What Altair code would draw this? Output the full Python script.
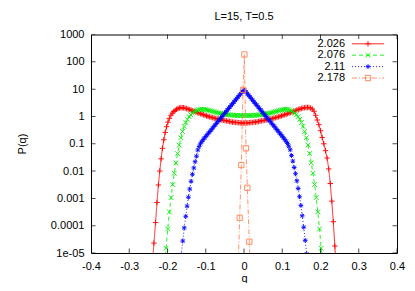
import altair as alt
import pandas as pd

# ---------------- data ----------------
series_names = ["2.026", "2.076", "2.11", "2.178"]

red_q = [-0.2400, -0.2355, -0.2312, -0.2274, -0.2238, -0.2202, -0.2167, -0.2132, -0.2096, -0.2060,
         -0.2024, -0.1988, -0.1952, -0.1910, -0.1873, -0.1836, -0.1800, -0.1763, -0.1726, -0.1690,
         -0.1653, -0.1616, -0.1580, -0.1540, -0.1500, -0.1460, -0.1420, -0.1380, -0.1340, -0.1300,
         -0.1260, -0.1220, -0.1180, -0.1140, -0.1100, -0.1060, -0.1020, -0.0980, -0.0940, -0.0900,
         -0.0860, -0.0820, -0.0780, -0.0740, -0.0700, -0.0660, -0.0620, -0.0580, -0.0540, -0.0500,
         -0.0460, -0.0420, -0.0380, -0.0340, -0.0300, -0.0260, -0.0220, -0.0180, -0.0140, -0.0100,
         -0.0060, -0.0020,
         0.0020, 0.0060, 0.0100, 0.0140, 0.0180, 0.0220, 0.0260, 0.0300, 0.0340, 0.0380,
         0.0420, 0.0460, 0.0500, 0.0540, 0.0580, 0.0620, 0.0660, 0.0700, 0.0740, 0.0780,
         0.0820, 0.0860, 0.0900, 0.0940, 0.0980, 0.1020, 0.1060, 0.1100, 0.1140, 0.1180,
         0.1220, 0.1260, 0.1300, 0.1340, 0.1380, 0.1420, 0.1460, 0.1500, 0.1540, 0.1580,
         0.1620, 0.1660, 0.1700, 0.1743, 0.1786, 0.1829, 0.1872, 0.1915, 0.1958, 0.2001,
         0.2044, 0.2087, 0.2130, 0.2172, 0.2215, 0.2255, 0.2295, 0.2335, 0.2375, 0.2415]
red_p = [2.5e-6, 2.3e-5, 1.3e-4, 7.1e-4, 3.1e-3, 0.010, 0.028, 0.068, 0.14, 0.26,
         0.42, 0.62, 0.85, 1.12, 1.32, 1.51, 1.66, 1.82, 1.95, 2.04,
         2.09, 2.09, 2.07, 2.00, 1.93, 1.86, 1.78, 1.70, 1.62, 1.55,
         1.46, 1.38, 1.32, 1.26, 1.20, 1.15, 1.10, 1.05, 1.00, 0.97,
         0.93, 0.90, 0.87, 0.84, 0.81, 0.79, 0.76, 0.74, 0.72, 0.71,
         0.69, 0.67, 0.65, 0.64, 0.62, 0.62, 0.60, 0.60, 0.59, 0.58,
         0.575, 0.575,
         0.575, 0.575, 0.58, 0.59, 0.60, 0.60, 0.62, 0.62, 0.64, 0.65,
         0.67, 0.69, 0.71, 0.72, 0.74, 0.76, 0.79, 0.81, 0.84, 0.87,
         0.90, 0.93, 0.97, 1.00, 1.05, 1.10, 1.15, 1.20, 1.26, 1.32,
         1.38, 1.46, 1.55, 1.63, 1.72, 1.80, 1.88, 1.95, 2.02, 2.08,
         2.12, 2.14, 2.12, 2.03, 1.86, 1.55, 1.10, 0.74, 0.50, 0.30,
         0.17, 0.10, 0.056, 0.030, 0.012, 0.0035, 7.9e-4, 1.4e-4, 1.8e-5, 1.6e-6]

green_q = [-0.2080, -0.2037, -0.1994, -0.1951, -0.1908, -0.1865, -0.1822, -0.1779, -0.1736, -0.1693,
           -0.1650, -0.1607, -0.1564, -0.1521, -0.1478, -0.1435, -0.1392, -0.1349, -0.1306, -0.1263,
           -0.1220, -0.1177, -0.1134, -0.1090, -0.1050, -0.1010, -0.0970, -0.0930, -0.0890, -0.0850,
           -0.0810, -0.0770, -0.0730, -0.0690, -0.0650, -0.0610, -0.0570, -0.0530, -0.0490, -0.0450,
           -0.0410, -0.0370, -0.0330, -0.0290, -0.0250, -0.0210, -0.0170, -0.0130, -0.0090, -0.0050,
           -0.0010,
           0.0030, 0.0070, 0.0110, 0.0150, 0.0190, 0.0230, 0.0270, 0.0310, 0.0350, 0.0390,
           0.0430, 0.0470, 0.0510, 0.0550, 0.0590, 0.0630, 0.0670, 0.0710, 0.0750, 0.0790,
           0.0830, 0.0870, 0.0910, 0.0950, 0.0990, 0.1030, 0.1070, 0.1110,
           0.1150, 0.1195, 0.1240, 0.1285, 0.1329, 0.1372, 0.1415, 0.1458, 0.1501, 0.1544,
           0.1587, 0.1630, 0.1673, 0.1716, 0.1759, 0.1802, 0.1845, 0.1888, 0.1931, 0.1974,
           0.2017, 0.2060]
green_p = [2.5e-6, 1.5e-5, 7.6e-5, 3.2e-4, 1.07e-3, 3.2e-3, 8.3e-3, 0.020, 0.044, 0.089,
           0.166, 0.28, 0.43, 0.60, 0.79, 0.98, 1.15, 1.32, 1.48, 1.58,
           1.70, 1.78, 1.82, 1.84, 1.82, 1.78, 1.74, 1.68, 1.62, 1.57,
           1.51, 1.46, 1.41, 1.36, 1.32, 1.29, 1.26, 1.23, 1.20, 1.17,
           1.15, 1.14, 1.12, 1.11, 1.10, 1.10, 1.08, 1.08, 1.08, 1.08,
           1.08,
           1.08, 1.08, 1.08, 1.08, 1.09, 1.10, 1.10, 1.11, 1.12, 1.14,
           1.15, 1.17, 1.20, 1.23, 1.26, 1.29, 1.32, 1.36, 1.41, 1.46,
           1.51, 1.57, 1.62, 1.68, 1.74, 1.78, 1.82, 1.84,
           1.80, 1.72, 1.60, 1.48, 1.32, 1.15, 0.98, 0.79, 0.60, 0.43,
           0.28, 0.166, 0.089, 0.044, 0.020, 8.3e-3, 3.2e-3, 1.07e-3, 3.2e-4, 7.6e-5,
           1.5e-5, 2.5e-6]

blue_q = [-0.1680, -0.1640, -0.1601, -0.1562, -0.1523, -0.1488, -0.1453, -0.1418, -0.1383, -0.1348,
          -0.1313, -0.1278, -0.1243, -0.1208, -0.1173, -0.1138, -0.1103, -0.1068, -0.1033, -0.0998,
          -0.0963, -0.0928, -0.0893, -0.0858, -0.0823, -0.0788, -0.0753, -0.0718, -0.0683, -0.0648,
          -0.0613, -0.0578, -0.0543, -0.0508, -0.0473, -0.0438, -0.0403, -0.0368, -0.0333, -0.0298,
          -0.0263, -0.0228, -0.0193, -0.0158, -0.0123, -0.0088, -0.0053, -0.0018,
          0.0017, 0.0052, 0.0087, 0.0122, 0.0157, 0.0192, 0.0227, 0.0262, 0.0297, 0.0332,
          0.0367, 0.0402, 0.0437, 0.0472, 0.0507, 0.0542, 0.0577, 0.0612, 0.0647, 0.0682,
          0.0717, 0.0752, 0.0787, 0.0822, 0.0857, 0.0892, 0.0927, 0.0962, 0.0997, 0.1032,
          0.1067, 0.1102, 0.1137, 0.1172, 0.1207, 0.1242, 0.1277, 0.1312, 0.1347, 0.1382,
          0.1417, 0.1452, 0.1487, 0.1522, 0.1561, 0.1600, 0.1639, 0.1679]
blue_p = [2.5e-6, 8.7e-6, 2.75e-5, 8.3e-5, 2.2e-4, 5.2e-4, 1.1e-3, 2.2e-3, 4.2e-3, 7.6e-3,
          0.013, 0.022, 0.035, 0.059, 0.079, 0.100, 0.120, 0.141, 0.162, 0.186,
          0.214, 0.245, 0.28, 0.32, 0.37, 0.43, 0.49, 0.56, 0.65, 0.74,
          0.85, 0.98, 1.12, 1.29, 1.48, 1.70, 1.95, 2.24, 2.57, 2.95,
          3.39, 3.89, 4.47, 5.13, 5.89, 6.76, 7.76, 8.91,
          9.0, 7.9, 6.8, 5.9, 5.2, 4.5, 3.9, 3.4, 2.95, 2.6,
          2.25, 1.95, 1.72, 1.50, 1.30, 1.13, 0.99, 0.86, 0.75, 0.66,
          0.57, 0.50, 0.44, 0.38, 0.33, 0.29, 0.25, 0.22, 0.19, 0.165,
          0.143, 0.122, 0.102, 0.081, 0.060, 0.037, 0.023, 0.0135, 0.0080, 0.0044,
          0.0023, 0.00115, 0.00055, 0.00023, 8.8e-5, 2.9e-5, 9.2e-6, 2.6e-6]

orange_q = [-0.0155, -0.0113, -0.0070, -0.0025, 0.0010, 0.0052, 0.0087, 0.0139, 0.0180]
orange_p = [2.5e-6, 1.95e-4, 0.0166, 9.3, 186.0, 0.068, 2.45e-3, 2.6e-5, 6.3e-7]

x_ticks = [-0.4, -0.3, -0.2, -0.1, 0.0, 0.1, 0.2, 0.3, 0.4]
y_ticks = [1e-5, 1e-4, 1e-3, 1e-2, 1e-1, 1, 10, 100, 1000]

title_text = "L=15, T=0.5"
x_title = "q"
y_title = "P(q)"

# ---------------- styling ----------------
FONT = "Liberation Sans"
W, H = 306, 218.5
colors = ["#ff0000", "#00ee00", "#0000ff", "#ff8050"]
dashes = [[1, 0], [4, 3], [1, 2], [5, 2, 1, 2]]
shapes = ["M-1,0L1,0M0,-1L0,1",
          "M-1,-1L1,1M-1,1L1,-1",
          "M-1,0L1,0M0,-1L0,1M-0.75,-0.75L0.75,0.75M-0.75,0.75L0.75,-0.75",
          "square"]
sizes = [30, 22, 22, 28]

series_data = [(red_q, red_p), (green_q, green_p), (blue_q, blue_p), (orange_q, orange_p)]
for qs, ps in series_data:
    assert len(qs) == len(ps), (len(qs), len(ps))

x_scale = alt.Scale(domain=[-0.4, 0.4], nice=False, zero=False)
y_scale = alt.Scale(type="log", domain=[1e-5, 1000], nice=False)

x_axis = alt.Axis(values=x_ticks, ticks=False, tickSize=0, domain=False, grid=False,
                  labelFont=FONT, labelFontSize=11, labelColor="black", labelPadding=7,
                  labelFlush=False, labelOverlap=False,
                  labelExpr="datum.value == 0 ? '0' : toString(round(datum.value*10)/10)",
                  title=x_title, titleFont=FONT, titleFontSize=11, titleFontWeight="normal",
                  titleColor="black", titleX=153, titleY=28, titleBaseline="alphabetic",
                  titleAlign="center")
y_axis = alt.Axis(values=y_ticks, ticks=False, tickSize=0, domain=False, grid=False,
                  labelFont=FONT, labelFontSize=11, labelColor="black", labelPadding=7,
                  labelFlush=False, labelOverlap=False,
                  labelExpr="datum.value < 0.00005 ? '1e-05' : format(datum.value, '~g')",
                  title=y_title, titleFont=FONT, titleFontSize=11, titleFontWeight="normal",
                  titleColor="black", titleAngle=270, titleX=-69, titleY=109,
                  titleAlign="center", titleBaseline="middle")

layers = []
for i, (name, (qs, ps)) in enumerate(zip(series_names, series_data)):
    df = pd.DataFrame({"q": qs, "P": ps, "series": name})
    base = alt.Chart(df).encode(
        x=alt.X("q:Q", scale=x_scale, axis=x_axis),
        y=alt.Y("P:Q", scale=y_scale, axis=y_axis),
    )
    layers.append(base.mark_line(clip=True, color=colors[i], strokeWidth=1,
                                 strokeDash=dashes[i], opacity=0.85))
    layers.append(base.mark_point(clip=True, color=colors[i], shape=shapes[i], filled=False,
                                  size=sizes[i], strokeWidth=1, opacity=0.9))

# inward ticks on all four sides
xt = pd.DataFrame({"q": x_ticks})
yt = pd.DataFrame({"P": y_ticks})
tick_style = dict(clip=True, color="black", size=9, thickness=1)
layers.append(alt.Chart(xt).mark_tick(orient="vertical", **tick_style).encode(
    x=alt.X("q:Q", scale=x_scale, axis=x_axis), y=alt.value(H)))
layers.append(alt.Chart(xt).mark_tick(orient="vertical", **tick_style).encode(
    x=alt.X("q:Q", scale=x_scale, axis=x_axis), y=alt.value(0)))
layers.append(alt.Chart(yt).mark_tick(orient="horizontal", **tick_style).encode(
    y=alt.Y("P:Q", scale=y_scale, axis=y_axis), x=alt.value(0)))
layers.append(alt.Chart(yt).mark_tick(orient="horizontal", **tick_style).encode(
    y=alt.Y("P:Q", scale=y_scale, axis=y_axis), x=alt.value(W)))

# key (top right, labels right-aligned left of the samples)
key_y = [9.3, 20.7, 32.1, 43.5]
one = pd.DataFrame({"a": [0]})
for i, name in enumerate(series_names):
    layers.append(alt.Chart(pd.DataFrame({"label": [name]})).mark_text(
        align="right", baseline="middle", font=FONT, fontSize=11, color="black").encode(
        x=alt.value(254), y=alt.value(key_y[i]), text="label:N"))
    layers.append(alt.Chart(one).mark_rule(color=colors[i], strokeWidth=1,
                                           strokeDash=dashes[i], opacity=0.85).encode(
        x=alt.value(261), x2=alt.value(293), y=alt.value(key_y[i])))
    layers.append(alt.Chart(one).mark_point(color=colors[i], shape=shapes[i], filled=False,
                                            size=sizes[i], strokeWidth=1, opacity=0.9).encode(
        x=alt.value(277), y=alt.value(key_y[i])))

chart = alt.layer(*layers).properties(
    width=W, height=H,
    title=alt.Title(title_text, font=FONT, fontSize=11, fontWeight="normal", color="black",
                    anchor="middle", offset=7),
    autosize=alt.AutoSizeParams(type="none"),
    padding={"left": 83, "top": 26.5, "right": 10, "bottom": 30},
).configure_view(stroke="black", strokeWidth=1)

chart.save("out.html", embed_options={"renderer": "svg", "actions": False})
